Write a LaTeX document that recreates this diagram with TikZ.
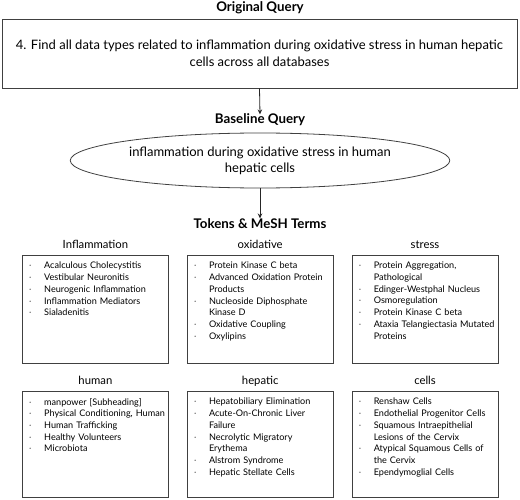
\documentclass[tikz,border=0pt]{standalone}
\usepackage{fontspec}
\setmainfont{Lato}
\usetikzlibrary{arrows.meta,positioning,shapes.geometric}

\newcommand\meshterm[1]{\hangindent=15pt\hangafter=1\noindent
  \makebox[15pt][l]{\textcolor{black!60}{\textperiodcentered}}#1\par}

\tikzset{
  stage/.style={font=\bfseries\fontsize{13.3}{15}\selectfont},
  token/.style={font=\fontsize{11.3}{13}\selectfont,text height=8pt,text depth=2.5pt},
  termbox/.style={draw=black!75,line width=0.8pt,minimum width=146pt,
    minimum height=108pt,inner sep=0pt},
  termlist/.style={anchor=north west,inner sep=0pt,text width=140pt,
    font=\fontsize{9.1}{11.7}\selectfont\raggedright},
  flow/.style={->,>={Stealth[length=5pt,width=4.5pt]},line width=0.8pt,black!85}
}

\begin{document}
\begin{tikzpicture}[x=1pt,y=-1pt,node distance=18pt]
\useasboundingbox (0,0) rectangle (520,500);

\node[stage] (orig) at (260,8) {Original Query};
\node[draw=black!75,line width=0.8pt,minimum width=515pt,minimum height=69pt,
  align=center,font=\fontsize{13}{17}\selectfont] (query) at (259.5,53.5)
  {4. Find all data types related to inflammation during oxidative stress in human hepatic\\cells across all databases};

\node[stage] (base) at (260,120) {Baseline Query};
\node[ellipse,draw=black!75,line width=0.8pt,minimum width=336pt,minimum height=55pt,
  align=center,font=\fontsize{13}{16}\selectfont] (bq) at (260,160.5)
  {inflammation during oxidative stress in human\\hepatic cells};

\node[stage] (tok) at (260,224) {Tokens \& MeSH Terms};

\draw[flow] (query.south) -- ([yshift=-4pt]base.north);
\draw[flow] (bq.south) -- ([yshift=-3pt]tok.north);

% first row of tokens
\node[termbox,anchor=north west] (b1) at (22,255) {};
\node[termbox,right=of b1] (b2) {};
\node[termbox,right=of b2] (b3) {};
% second row of tokens
\node[termbox,anchor=north west,minimum height=106pt] (b4) at (22,391) {};
\node[termbox,minimum height=106pt,right=of b4] (b5) {};
\node[termbox,minimum height=106pt,right=of b5] (b6) {};

\node[token,above=0.5pt of b1] (t1) {Inflammation};
\node[token,above=0.5pt of b2] (t2) {oxidative};
\node[token,above=0.5pt of b3] (t3) {stress};
\node[token,above=0.5pt of b4] (t4) {human};
\node[token,above=0.5pt of b5] (t5) {hepatic};
\node[token,above=0.5pt of b6] (t6) {cells};

\node[termlist] (l1) at ([xshift=7pt,yshift=-7pt]b1.north west) {%
  \meshterm{Acalculous Cholecystitis}
  \meshterm{Vestibular Neuronitis}
  \meshterm{Neurogenic Inflammation}
  \meshterm{Inflammation Mediators}
  \meshterm{Sialadenitis}};
\node[termlist] (l2) at ([xshift=7pt,yshift=-7pt]b2.north west) {%
  \meshterm{Protein Kinase C beta}
  \meshterm{Advanced Oxidation Protein\newline Products}
  \meshterm{Nucleoside Diphosphate\newline Kinase D}
  \meshterm{Oxidative Coupling}
  \meshterm{Oxylipins}};
\node[termlist] (l3) at ([xshift=7pt,yshift=-7pt]b3.north west) {%
  \meshterm{Protein Aggregation,\newline Pathological}
  \meshterm{Edinger-Westphal Nucleus}
  \meshterm{Osmoregulation}
  \meshterm{Protein Kinase C beta}
  \meshterm{Ataxia Telangiectasia Mutated\newline Proteins}};
\node[termlist] (l4) at ([xshift=7pt,yshift=-7pt]b4.north west) {%
  \meshterm{manpower [Subheading]}
  \meshterm{Physical Conditioning, Human}
  \meshterm{Human Trafficking}
  \meshterm{Healthy Volunteers}
  \meshterm{Microbiota}};
\node[termlist] (l5) at ([xshift=7pt,yshift=-7pt]b5.north west) {%
  \meshterm{Hepatobiliary Elimination}
  \meshterm{Acute-On-Chronic Liver\newline Failure}
  \meshterm{Necrolytic Migratory\newline Erythema}
  \meshterm{Alstrom Syndrome}
  \meshterm{Hepatic Stellate Cells}};
\node[termlist] (l6) at ([xshift=7pt,yshift=-7pt]b6.north west) {%
  \meshterm{Renshaw Cells}
  \meshterm{Endothelial Progenitor Cells}
  \meshterm{Squamous Intraepithelial\newline Lesions of the Cervix}
  \meshterm{Atypical Squamous Cells of\newline the Cervix}
  \meshterm{Ependymoglial Cells}};
\end{tikzpicture}
\end{document}
